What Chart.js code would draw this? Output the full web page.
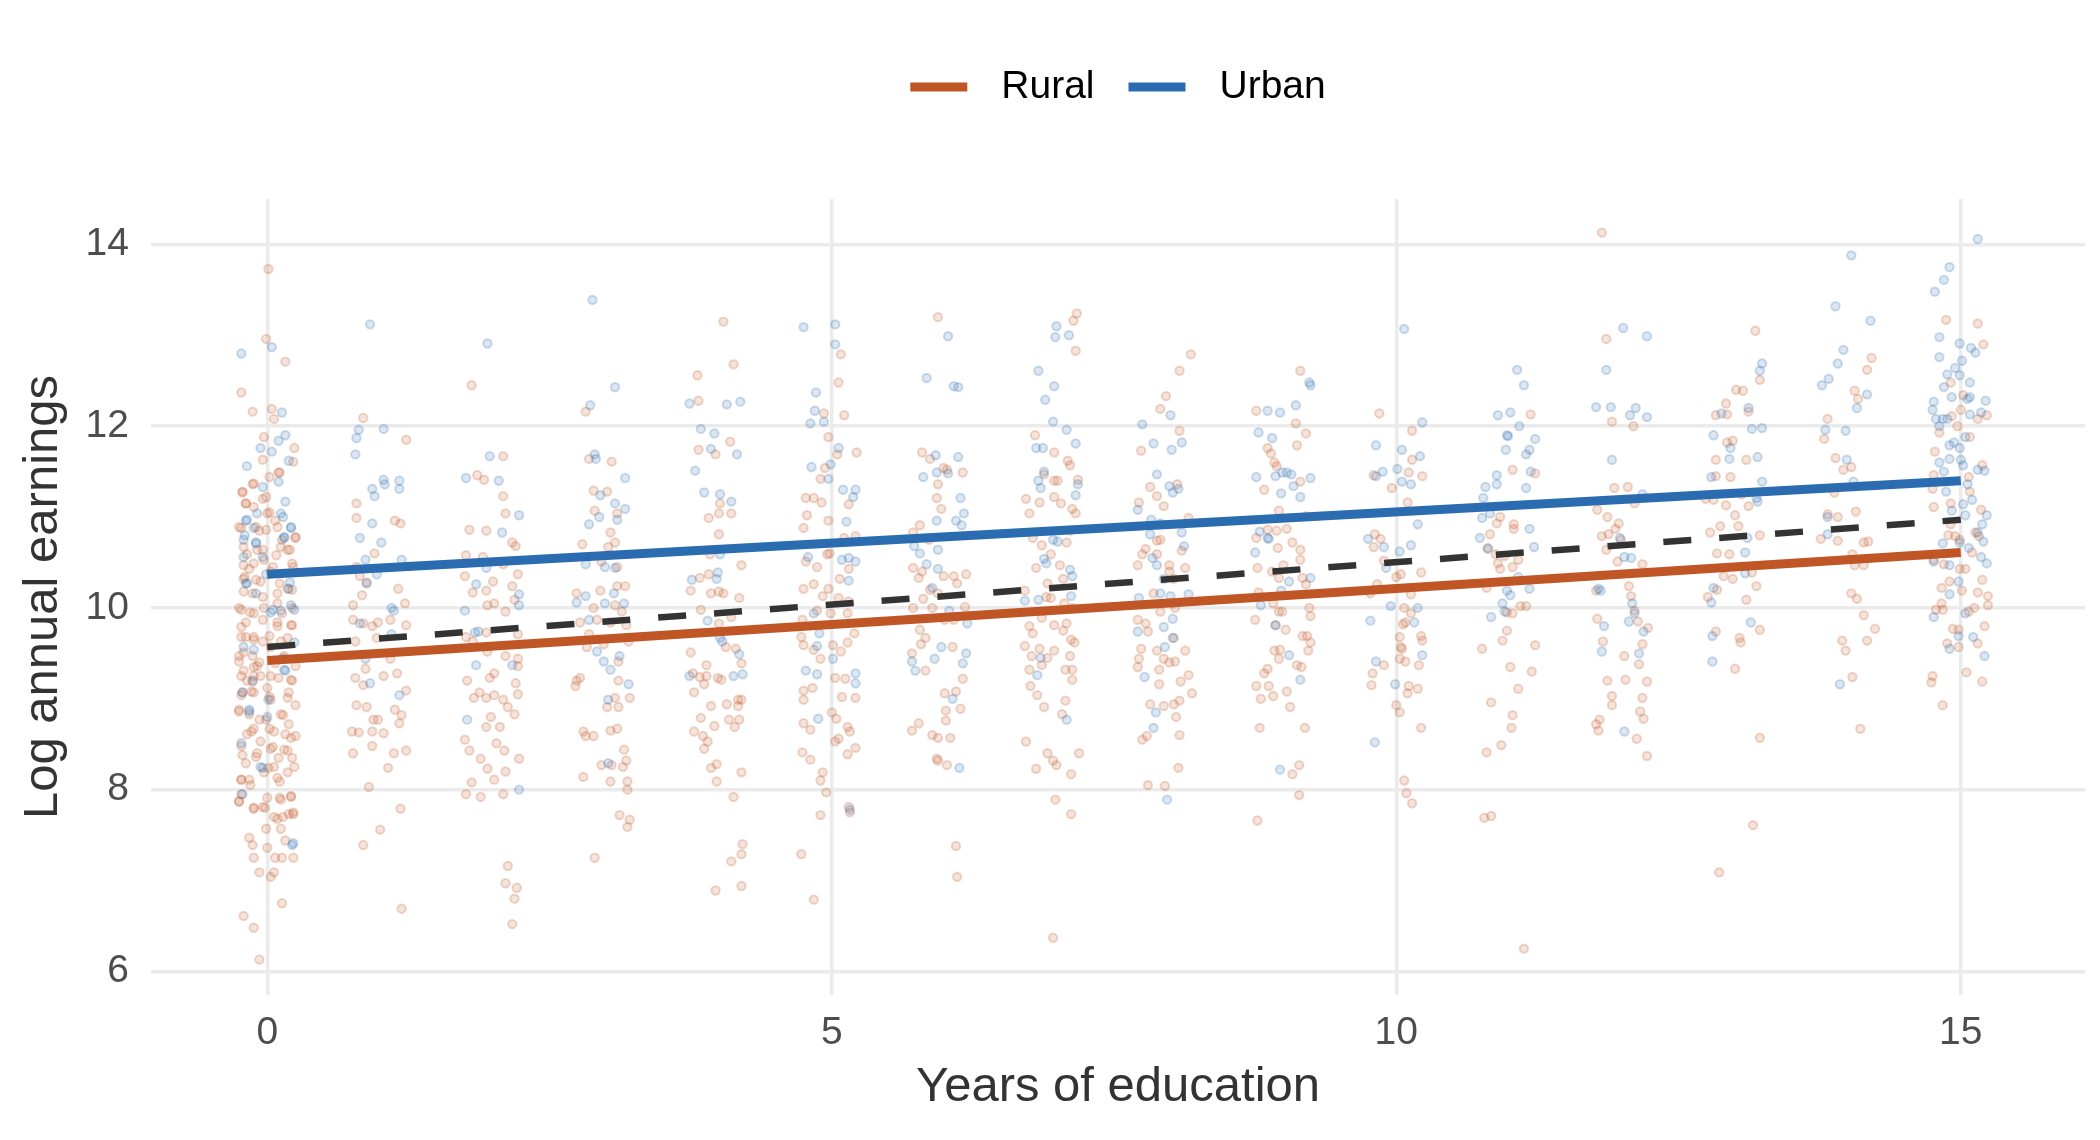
<!DOCTYPE html>
<html lang="en">
<head>
<meta charset="utf-8">
<title>Log annual earnings by years of education</title>
<script src="https://cdn.jsdelivr.net/npm/chart.js@4.4.1/dist/chart.umd.min.js"></script>
<style>
    html, body { margin: 0; padding: 0; background: #ffffff; }
    #chartWrap { width: 2100px; height: 1140px; }
</style>
</head>
<body>
<div id="chartWrap"><canvas id="earningsChart" width="2100" height="1140"></canvas></div>
<script>
// Data: [years of education (jittered), log annual earnings]
const ruralPoints = [
    // 0 years
    [0.01,13.73],[-0.01,12.96],[0.16,12.71],[-0.23,12.37],[-0.13,12.16],[0.04,12.19],[0.06,12.08],[-0.03,11.88],[0.24,11.76],[0.23,11.61],
    [-0.04,11.63],[0.10,11.49],[-0.22,11.28],[-0.13,11.36],[-0.19,11.15],[-0.04,11.2],[0,11.04],[-0.23,10.88],[0.13,10.75],[0.25,10.77],
    [-0.18,10.59],[-0.09,10.64],[0.18,10.64],[-0.21,10.32],[-0.06,10.29],[0.23,10.45],[0.18,10.21],[-0.25,10.0],[-0.15,9.95],[-0.03,10.0],
    [0.09,9.84],[0.22,10.0],[-0.23,9.79],[-0.12,9.68],[0.21,9.81],[-0.25,9.47],[-0.13,9.47],[0.03,9.57],[0.15,9.47],[0.25,9.36],
    [-0.21,9.31],[-0.06,9.25],[0.10,9.23],[0.22,9.2],[-0.23,9.04],[-0.12,9.07],[0.03,8.99],[0.18,9.01],[0.25,8.93],[-0.25,8.88],
    [-0.16,8.83],[-0.01,8.77],[0.12,8.83],[-0.18,8.61],[-0.12,8.67],[0.06,8.64],[0.16,8.61],[0.25,8.59],[-0.23,8.48],[-0.09,8.4],
    [0.03,8.45],[0.18,8.43],[0.22,8.35],[-0.23,8.11],[-0.15,8.05],[-0.03,8.19],[0.09,8.13],[-0.25,7.87],[-0.12,7.79],[-0.04,7.81],
    [0.12,7.89],[0.21,7.92],[-0.01,7.57],[0.09,7.68],[0.12,7.57],[0.23,7.73],[-0.16,7.47],[-0.13,7.39],[0.16,7.44],[0,7.36],
    [-0.12,7.25],[0.07,7.25],[0.13,7.25],[0.23,7.25],[-0.07,7.09],[0.03,7.04],[0.06,7.09],[0.13,6.75],[-0.21,6.61],[-0.12,6.48],
    [-0.07,6.13],[-0.16,10.43],[0.03,10.4],[-0.13,10.16],[0.09,10.05],[-0.19,9.68],[-0.04,9.63],[0.12,9.63],[-0.09,9.36],[0.07,9.39],
    [-0.18,9.2],[0,9.12],[0.19,8.72],[-0.06,8.53],[0.10,8.35],[0.01,8.24],[-0.19,8.29],[-0.07,10.85],[0.07,10.96],[-0.03,10.53],
    [0.18,8.19],[0.19,7.73],
    [0.11,11.49],[0.02,11.44],[-0.12,11.37],[-0.22,11.27],[-0.01,11.22],[-0.19,11.15],[-0.12,11.11],[0.02,11.05],[-0.25,10.89],[-0.1,10.89],
    [-0.01,10.86],[0.09,10.89],[0.25,10.78],[-0.21,10.67],[-0.04,10.64],[0.12,10.67],[0.08,10.58],[0.2,10.64],[-0.21,10.47],[-0.12,10.49],
    [0.05,10.45],[0.22,10.49],[-0.2,10.34],[-0.1,10.31],[0.11,10.27],[-0.21,10.18],[-0.04,10.12],[0.09,10.16],[0.22,10.2],[-0.23,9.98],
    [-0.12,9.94],[0.13,9.94],[-0.19,9.84],[-0.04,9.87],[0.09,9.8],[0.22,9.81],[-0.23,9.68],[-0.12,9.65],[0.02,9.69],[0.18,9.67],
    [-0.21,9.51],[-0.25,9.41],[-0.07,9.4],[-0.12,9.35],
    [-0.23,9.25],[-0.12,9.25],[0.03,9.25],[0.21,9.21],[-0.13,9.19],[-0.22,9.07],[0.02,9.02],[0.19,9.07],[-0.14,9.08],[-0.25,8.86],
    [-0.07,8.77],[0.14,8.82],[-0.14,8.64],[0.02,8.67],[0.21,8.57],[0.05,8.47],[0.15,8.44],[-0.22,8.38],[-0.10,8.36],[0.24,8.25],
    [0.06,8.25],[-0.23,8.11],[-0.16,8.11],[0.11,8.09],[-0.23,7.95],[-0.25,7.87],[0.21,7.93],[0.0,7.91],[0.11,7.91],[-0.12,7.8],
    [-0.02,7.8],[0.06,7.7],[0.14,7.7],[0.23,7.75],
    // 1 year
    [0.85,12.09],[1.23,11.85],[0.79,11.15],[0.79,10.99],[1.13,10.96],[1.18,10.93],[0.95,10.6],[0.79,10.45],[0.82,10.35],[0.84,10.14],
    [0.88,10.28],[1.16,10.21],[0.76,10.03],[1.22,10.05],[0.76,9.87],[0.85,9.83],[1.09,9.87],[1.23,9.81],[0.93,9.8],[0.98,9.84],
    [0.78,9.63],[0.97,9.67],[1.09,9.44],[0.87,9.33],[1.03,9.25],[1.15,9.28],[0.78,9.23],[0.85,9.15],[1.23,9.09],[0.79,8.93],
    [0.88,8.91],[1.13,8.88],[1.19,8.82],[0.94,8.77],[0.98,8.77],[0.75,8.64],[0.81,8.63],[0.93,8.64],[1.03,8.62],[1.17,8.73],
    [0.93,8.48],[0.76,8.4],[1.12,8.4],[1.23,8.43],[1.07,8.24],[0.9,8.03],[1.18,7.79],[1.0,7.56],[0.85,7.39],[1.19,6.69],
    // 2 years
    [1.81,12.45],[1.86,11.46],[1.92,11.41],[2.09,11.67],[2.09,11.23],[2.11,11.04],[1.79,10.86],[1.94,10.85],[2.17,10.72],[2.2,10.68],
    [1.76,10.58],[1.91,10.56],[2.09,10.48],[1.75,10.35],[1.82,10.17],[1.94,10.19],[2.0,10.29],[2.17,10.24],[2.22,10.37],[2.19,10.09],
    [1.95,10.03],[2.01,10.05],[2.11,9.96],[1.76,9.68],[1.82,9.63],[1.94,9.73],[2.22,9.71],[1.95,9.52],[2.11,9.47],[2.22,9.44],
    [2.22,9.36],[2.01,9.28],[1.77,9.2],[1.97,9.23],[2.2,9.17],[1.88,9.07],[1.94,9.01],[2.01,9.04],[1.83,9.01],[2.22,9.05],
    [2.09,8.99],[2.13,8.91],[2.19,8.83],[1.98,8.8],[1.94,8.69],[2.06,8.69],[1.75,8.55],[2.03,8.51],[2.1,8.43],[1.79,8.43],
    [1.89,8.34],[1.95,8.23],[2.01,8.11],[2.11,8.2],[1.76,7.95],[1.81,8.08],[1.89,7.92],[2.09,7.95],[2.23,8.34],[2.13,7.16],
    [2.11,6.97],[2.21,6.92],[2.19,6.8],[2.17,6.52],
    // 3 years
    [2.82,12.16],[2.85,11.64],[3.05,11.61],[2.89,11.29],[3.01,11.28],[2.9,11.07],[3.10,11.04],[3.04,10.83],[2.79,10.7],[3.08,10.72],
    [3.02,10.67],[2.96,10.51],[3.10,10.45],[2.74,10.16],[2.95,10.19],[3.10,10.24],[3.17,10.24],[2.89,10.0],[3.08,10.03],[3.14,9.96],
    [2.77,9.84],[2.92,9.87],[3.04,9.84],[3.18,9.81],[2.85,9.71],[3.20,9.63],[2.83,9.57],[2.98,9.6],[3.11,9.41],[2.74,9.2],
    [2.77,9.23],[2.73,9.14],[3.11,9.2],[3.21,9.01],[3.08,9.01],[3.01,8.91],[3.11,8.91],[2.80,8.64],[2.89,8.59],[2.82,8.59],
    [3.04,8.65],[3.10,8.67],[3.16,8.44],[3.18,8.32],[2.96,8.27],[3.05,8.27],[3.15,8.25],[2.80,8.14],[3.04,8.09],[3.19,8.09],
    [3.19,8.0],[3.12,7.72],[3.21,7.67],[3.19,7.59],[2.90,7.25],
    // 4 years
    [4.04,13.15],[4.13,12.68],[3.81,12.56],[3.82,12.28],[3.82,11.74],[3.97,11.69],[4.10,11.83],[4.01,11.15],[3.91,10.99],[4.0,11.04],
    [4.11,11.04],[4.0,10.81],[3.92,10.59],[3.83,10.33],[3.91,10.37],[3.93,10.16],[4.0,10.18],[4.04,10.16],[3.75,10.19],[4.18,10.11],
    [4.20,10.47],[3.84,9.98],[4.0,9.83],[4.11,9.9],[3.75,9.51],[3.89,9.37],[4.06,9.57],[4.15,9.55],[4.20,9.39],[3.77,9.28],
    [3.83,9.24],[3.89,9.25],[3.99,9.23],[4.02,9.21],[3.87,9.16],[3.78,9.07],[3.93,8.92],[4.07,8.94],[4.17,8.99],[4.20,8.99],
    [4.17,8.92],[3.84,8.79],[4.09,8.77],[4.18,8.77],[3.96,8.7],[4.14,8.69],[3.78,8.64],[3.86,8.59],[3.9,8.53],[3.87,8.45],
    [3.93,8.24],[3.98,8.28],[4.20,8.19],[3.98,8.09],[4.13,7.92],[4.21,7.4],[4.20,7.29],[4.11,7.21],[3.97,6.89],[4.20,6.94],
    // 5 years
    [5.08,12.79],[5.06,12.48],[5.11,12.12],[4.93,12.14],[4.97,11.88],[5.05,11.69],[5.22,11.71],[4.94,11.54],[4.90,11.42],[4.77,11.21],
    [4.84,11.21],[4.91,11.16],[4.78,11.02],[5.15,11.14],[4.75,10.88],[4.97,10.96],[5.21,10.79],[5.11,10.77],[4.77,10.51],[4.87,10.45],
    [4.98,10.6],[4.96,10.59],[5.07,10.32],[5.15,10.43],[4.75,10.21],[4.84,10.26],[4.97,10.21],[4.92,10.13],[5.06,10.11],[5.15,10.07],
    [4.74,9.87],[4.87,9.97],[4.99,9.94],[5.14,9.94],[5.20,9.72],[4.73,9.68],[4.75,9.59],[4.84,9.54],[4.90,9.44],[5.01,9.59],
    [5.08,9.52],[5.14,9.62],[5.03,9.23],[5.12,9.22],[4.83,9.12],[4.75,9.09],[4.75,8.99],[5.09,9.02],[5.21,9.01],[5.00,8.85],
    [5.04,8.78],[4.75,8.73],[4.81,8.66],[5.16,8.64],[5.14,8.69],[5.21,8.46],[4.74,8.41],[4.81,8.33],[5.03,8.53],[5.06,8.56],
    [5.14,8.39],[4.92,8.19],[4.90,8.1],[4.95,7.97],[4.90,7.72],[5.15,7.81],[5.16,7.75],[4.73,7.29],[4.84,6.79],
    // 6 years
    [5.94,13.2],[5.80,11.71],[5.87,11.64],[5.99,11.54],[6.02,11.52],[6.16,11.49],[5.94,11.36],[5.93,11.21],[5.97,11.09],[5.78,10.91],
    [5.72,10.83],[5.86,10.75],[5.72,10.44],[5.77,10.33],[5.80,10.4],[5.99,10.35],[6.08,10.35],[6.19,10.37],[5.87,10.2],[6.11,10.27],
    [5.94,10.16],[5.81,10.1],[5.89,10.0],[5.72,10.0],[5.78,9.76],[5.83,9.67],[5.79,9.6],[6.18,10.01],[6.08,9.87],[6.0,9.87],
    [5.71,9.5],[5.83,9.31],[6.07,9.57],[6.16,9.22],[6.0,9.06],[6.10,9.08],[6.01,8.87],[6.14,8.89],[5.77,8.73],[5.71,8.65],
    [6.01,8.76],[5.89,8.6],[5.94,8.57],[6.05,8.57],[5.93,8.34],[5.94,8.32],[6.02,8.27],[6.10,7.38],[6.11,7.04],
    // 7 years
    [7.17,13.24],[7.14,13.16],[7.16,12.83],[6.80,11.9],[6.97,11.71],[7.09,11.62],[7.11,11.57],[6.88,11.47],[6.97,11.4],[7.0,11.4],
    [7.18,11.41],[6.72,11.2],[6.84,11.16],[6.97,11.22],[7.03,11.15],[7.16,11.04],[6.75,11.04],[7.13,11.09],[6.86,10.69],[7.08,10.72],
    [7.11,10.85],[6.78,10.77],[6.81,10.44],[6.94,10.59],[7.02,10.47],[7.05,10.32],[6.91,10.27],[6.94,10.11],[6.90,10.12],[6.71,10.19],
    [7.06,10.05],[7.13,10.0],[6.86,9.89],[6.97,9.81],[6.75,9.8],[6.78,9.72],[7.08,9.83],[7.05,9.75],[7.12,9.65],[7.15,9.62],
    [6.71,9.58],[6.84,9.55],[6.97,9.53],[6.77,9.47],[7.11,9.47],[6.91,9.45],[6.86,9.37],[6.75,9.32],[7.07,9.32],[7.13,9.32],
    [7.13,9.21],[6.76,9.14],[6.82,9.04],[7.07,8.98],[6.88,8.91],[7.04,8.83],[6.72,8.53],[6.91,8.4],[6.96,8.32],[6.99,8.27],
    [7.19,8.4],[6.81,8.23],[7.12,8.17],[6.98,7.89],[7.12,7.73],[6.96,6.37],
    // 8 years
    [8.18,12.79],[8.08,12.61],[7.96,12.33],[7.91,12.19],[8.08,11.95],[7.74,11.73],[7.82,11.33],[7.88,11.23],[7.94,11.12],[8.06,11.36],
    [7.72,11.16],[8.16,10.99],[7.91,10.75],[7.88,10.74],[7.78,10.65],[7.75,10.59],[7.88,10.59],[7.99,10.47],[7.99,10.4],[8.10,10.63],
    [7.71,10.47],[8.13,10.44],[8.03,10.32],[7.85,10.16],[8.02,10.05],[7.91,9.96],[8.04,10.0],[7.71,9.87],[7.78,9.83],[7.80,9.74],
    [8.03,9.67],[7.74,9.55],[7.72,9.44],[7.71,9.35],[7.88,9.53],[7.94,9.44],[7.99,9.4],[8.04,9.41],[8.13,9.53],[7.90,9.32],
    [8.16,9.26],[8.09,9.19],[8.19,9.06],[7.90,9.16],[7.82,8.94],[7.94,8.92],[8.03,8.94],[8.08,8.98],[8.05,8.8],[8.08,8.6],
    [7.75,8.55],[7.79,8.59],[8.07,8.24],[7.80,8.05],[7.95,8.04],
    // 9 years
    [9.15,12.61],[8.76,12.17],[9.11,12.03],[9.20,11.92],[9.12,11.79],[8.86,11.76],[8.89,11.7],[8.92,11.6],[8.94,11.56],[9.15,11.39],
    [8.83,11.3],[8.96,11.07],[9.20,11.01],[8.86,10.86],[8.94,10.85],[9.03,10.87],[9.08,10.72],[8.76,10.77],[8.95,10.66],[9.15,10.64],
    [9.15,10.53],[8.77,10.44],[9.00,10.47],[8.90,10.4],[8.96,10.33],[9.17,10.33],[8.78,10.17],[9.20,10.26],[8.91,10.05],[9.23,10.0],
    [8.75,9.87],[8.96,9.96],[8.99,9.96],[9.24,9.91],[8.93,9.81],[9.02,9.76],[9.17,9.69],[9.21,9.69],[9.24,9.62],[9.22,9.53],
    [8.92,9.53],[8.97,9.54],[8.96,9.44],[8.86,9.33],[8.83,9.28],[9.12,9.37],[9.16,9.35],[8.76,9.14],[8.87,9.14],[8.91,9.03],
    [9.03,9.08],[8.80,9.0],[9.06,8.91],[8.79,8.68],[9.19,8.68],[9.14,8.27],[9.08,8.17],[9.14,7.94],[8.77,7.66],
    // 10 years
    [9.85,12.14],[10.14,11.95],[10.14,11.63],[10.11,11.49],[10.23,11.45],[9.80,11.46],[9.96,11.32],[10.10,11.16],[9.81,10.81],[9.86,10.76],
    [9.80,10.67],[9.89,10.52],[10.22,10.39],[10.0,10.34],[10.04,10.37],[9.83,10.26],[9.77,10.16],[10.13,10.15],[10.07,10.0],[10.13,9.94],
    [10.06,9.82],[10.08,9.84],[10.22,9.69],[10.23,9.64],[10.03,9.68],[10.04,9.57],[10.05,9.55],[10.03,9.44],[10.08,9.41],[10.20,9.37],
    [9.89,9.37],[9.79,9.28],[9.78,9.15],[10.11,9.14],[10.19,9.11],[10.10,9.06],[10.0,8.93],[10.03,8.85],[10.22,8.68],[10.07,8.1],
    [10.09,7.96],[10.14,7.85],
    // 11 years
    [11.19,12.13],[11.23,11.48],[11.03,11.52],[10.92,11.0],[11.04,10.92],[11.04,10.87],[10.83,10.81],[10.89,10.93],[11.08,10.53],[10.96,10.57],
    [10.88,10.59],[10.90,10.49],[10.92,10.43],[11.03,10.45],[10.81,10.66],[10.80,10.22],[10.98,9.95],[11.03,9.94],[11.10,10.02],[11.15,10.02],
    [10.98,9.75],[10.94,9.64],[10.76,9.55],[11.23,9.59],[11.01,9.35],[11.20,9.3],[11.08,9.11],[10.84,8.96],[11.03,8.82],[11.02,8.68],
    [10.80,8.41],[10.93,8.49],[10.78,7.69],[10.84,7.71],[11.13,6.25],
    // 12 years
    [11.82,14.13],[11.86,12.96],[11.91,12.05],[12.1,12.0],[11.93,11.32],[12.05,11.33],[12.11,11.15],[11.78,11.08],[11.87,11.0],[11.97,10.93],
    [11.94,10.87],[11.82,10.79],[11.88,10.81],[11.99,10.75],[11.86,10.64],[11.96,10.51],[12.18,10.48],[12.06,10.24],[11.77,10.19],[12.08,10.13],
    [12.11,9.97],[11.78,9.88],[12.14,9.85],[12.23,9.78],[11.83,9.63],[12.18,9.6],[12.02,9.47],[12.15,9.38],[11.87,9.2],[12.03,9.21],
    [12.22,9.19],[11.91,9.03],[12.18,9.01],[11.91,8.93],[12.16,8.86],[12.19,8.78],[11.80,8.77],[11.77,8.72],[11.79,8.65],[12.13,8.56],
    [12.22,8.37],
    // 13 years
    [13.18,13.05],[13.22,12.51],[13.01,12.4],[13.07,12.39],[12.92,12.25],[12.83,12.12],[12.93,12.13],[13.12,12.16],[12.93,11.82],[12.98,11.84],
    [12.83,11.63],[13.10,11.63],[12.83,11.45],[12.96,11.44],[12.74,11.2],[12.81,11.19],[12.92,11.13],[13.06,11.25],[13.12,11.12],[13.0,11.02],
    [12.87,10.9],[13.03,10.9],[12.78,10.83],[13.22,10.8],[12.84,10.6],[12.95,10.59],[12.98,10.32],[12.90,10.35],[13.15,10.39],[13.19,10.24],
    [12.76,10.12],[12.84,10.2],[13.10,10.09],[12.83,9.74],[13.22,9.76],[13.04,9.67],[13.05,9.62],[13.0,9.33],[13.22,8.57],[13.16,7.61],
    [12.86,7.09],
    // 14 years
    [14.21,12.75],[14.17,12.62],[14.06,12.39],[14.09,12.3],[13.82,12.08],[13.79,11.86],[13.89,11.65],[13.96,11.52],[14.03,11.55],[13.88,11.27],
    [14.07,11.06],[13.82,11.03],[13.91,11.0],[13.76,10.76],[13.91,10.74],[14.14,10.72],[14.18,10.73],[14.04,10.59],[14.06,10.47],[14.14,10.47],
    [14.03,10.16],[14.08,10.1],[14.14,9.92],[14.24,9.77],[13.95,9.64],[14.17,9.64],[13.98,9.53],[14.04,9.24],[14.11,8.67],
    // 15 years
    [14.87,13.17],[15.15,13.13],[15.20,12.9],[14.91,12.48],[15.02,12.34],[15.0,12.18],[14.92,12.11],[15.23,12.12],[15.15,12.08],[14.81,11.93],
    [14.97,12.0],[15.08,11.88],[14.77,11.72],[15.19,11.57],[14.76,11.46],[15.07,11.44],[14.75,11.31],[15.08,11.28],[14.91,11.15],[14.76,11.11],
    [15.18,11.08],[14.91,10.92],[14.89,10.8],[14.95,10.79],[14.99,10.75],[15.13,10.83],[15.16,10.79],[15.10,10.61],[14.76,10.53],[14.85,10.48],
    [14.99,10.43],[15.04,10.43],[14.90,10.29],[14.83,10.22],[15.01,10.19],[15.19,10.31],[14.83,10.05],[14.78,9.98],[14.84,9.98],[15.15,10.17],
    [15.24,10.13],[15.24,10.03],[15.12,10.0],[15.07,9.96],[15.21,9.8],[14.93,9.77],[14.98,9.76],[14.88,9.61],[14.98,9.57],[15.15,9.61],
    [15.05,9.29],[14.75,9.25],[14.74,9.18],[15.19,9.19],[14.84,8.93]
];

const urbanPoints = [
    // 0 years
    [-0.23,12.8],[0.04,12.87],[0.13,12.15],[0.16,11.9],[0.10,11.84],[-0.06,11.76],[-0.18,11.56],[0.04,11.72],[0.19,11.62],[0.1,11.39],
    [0.16,11.17],[-0.04,11.33],[-0.19,10.96],[-0.09,11.04],[0.12,11.04],[0.21,10.88],[-0.12,10.88],[-0.21,10.75],[0.15,10.77],[-0.10,10.72],
    [-0.01,10.37],[0.19,10.21],[-0.18,10.27],[0.03,9.95],[0.12,9.97],[-0.21,9.57],[-0.13,9.2],[0.16,9.31],[-0.22,9.07],[0.01,8.99],
    [-0.16,8.88],[0,8.8],[-0.23,8.51],[-0.04,8.24],[-0.22,7.95],[0.22,7.39],[0.21,10.03],
    [0.14,11.0],[-0.18,10.97],[0.21,10.89],[-0.2,10.8],[-0.1,10.71],[0.15,10.78],[-0.21,10.56],[-0.04,10.56],[-0.19,10.27],[0.2,10.28],
    [-0.1,10.16],[0.05,9.98],[0.24,9.98],[0.24,9.62],[-0.12,9.54],[0.14,9.45],[0.15,9.32],[-0.16,8.86],[-0.06,8.25],[0.23,7.41],
    // 1 year
    [0.91,13.12],[0.81,11.96],[1.03,11.97],[0.79,11.87],[0.78,11.69],[1.03,11.41],[1.04,11.36],[1.17,11.4],[1.17,11.31],[0.93,11.31],
    [0.95,11.23],[0.93,10.93],[0.82,10.77],[1.01,10.72],[0.87,10.53],[1.19,10.53],[0.97,10.37],[0.88,10.27],[1.10,10.0],[1.12,9.97],
    [0.82,9.83],[1.10,9.71],[0.87,9.44],[0.91,9.17],[1.17,9.04],
    // 2 years
    [1.95,12.91],[1.97,11.67],[1.76,11.43],[2.05,11.4],[2.23,11.02],[2.08,10.83],[1.85,10.26],[1.94,10.44],[2.23,10.15],[2.23,10.03],
    [1.75,9.97],[1.84,9.73],[1.87,9.74],[1.85,9.37],[2.17,9.37],[1.77,8.77],[2.23,8.0],
    // 3 years
    [2.88,13.39],[3.08,12.43],[2.86,12.23],[2.9,11.69],[2.91,11.64],[3.17,11.43],[2.95,11.24],[3.08,11.15],[3.17,11.09],[2.85,10.92],
    [2.94,11.0],[3.10,10.97],[2.82,10.48],[2.99,10.45],[3.08,10.44],[2.82,10.13],[2.74,10.06],[3.07,10.16],[2.99,10.05],[3.16,10.05],
    [2.85,9.87],[2.92,9.52],[2.98,9.41],[3.12,9.47],[3.04,9.32],[3.20,9.16],[3.02,8.99],[3.02,8.29],
    // 4 years
    [3.74,12.25],[4.07,12.24],[4.19,12.27],[3.84,11.97],[3.96,11.92],[3.93,11.75],[4.16,11.69],[3.79,11.51],[3.87,11.27],[4.01,11.25],
    [4.11,11.17],[4.01,10.59],[3.99,10.39],[3.98,10.32],[3.76,10.31],[3.90,9.86],[4.01,9.67],[4.03,9.63],[4.18,9.49],[3.74,9.25],
    [4.13,9.25],[4.21,9.27],
    // 5 years
    [4.75,13.09],[5.03,13.12],[5.03,12.9],[4.86,12.37],[4.85,12.17],[4.81,12.03],[4.93,12.05],[5.06,11.76],[4.99,11.58],[4.82,11.55],
    [4.97,11.42],[5.10,11.3],[5.21,11.3],[5.19,11.22],[5.13,10.95],[5.09,10.53],[5.21,10.51],[5.15,10.55],[4.79,10.56],[5.15,10.3],
    [4.84,9.94],[4.89,9.72],[4.87,9.58],[5.01,9.44],[4.77,9.31],[4.87,9.27],[5.21,9.28],[5.21,9.17],[4.88,8.78],[5.16,7.78],
    // 6 years
    [6.03,12.99],[5.84,12.53],[6.08,12.44],[6.12,12.43],[5.92,11.68],[6.12,11.66],[5.81,11.44],[5.93,11.49],[6.03,11.48],[6.14,11.21],
    [6.17,11.04],[5.93,10.96],[6.10,10.96],[6.15,10.91],[5.73,10.68],[5.78,10.6],[5.84,10.48],[5.94,10.64],[5.94,10.43],[5.89,10.22],
    [6.04,9.97],[6.20,9.83],[5.97,9.57],[5.91,9.44],[5.71,9.41],[5.74,9.31],[6.16,9.39],[6.19,9.5],[6.07,9.0],[6.13,8.24],
    // 7 years
    [6.99,13.1],[6.98,12.98],[7.10,13.0],[6.83,12.61],[6.97,12.44],[6.89,12.29],[6.96,12.05],[7.08,11.96],[7.16,11.81],[6.81,11.76],
    [6.87,11.76],[6.88,11.5],[6.83,11.4],[6.85,11.32],[7.18,11.36],[7.16,11.24],[6.96,10.75],[7.0,10.73],[6.88,10.54],[6.90,10.49],
    [7.11,10.42],[7.13,10.35],[6.71,10.08],[6.83,10.09],[7.12,10.13],[6.85,9.45],[6.82,9.26],[7.08,8.77],
    // 8 years
    [7.75,12.02],[7.85,11.81],[8.00,12.12],[8.01,11.74],[8.10,11.82],[7.88,11.47],[7.99,11.34],[8.02,11.27],[8.07,11.31],[7.71,11.08],
    [7.83,10.97],[7.91,10.93],[8.10,10.83],[7.82,10.81],[8.12,10.68],[7.84,10.55],[7.88,10.47],[7.94,10.32],[7.72,10.11],[7.91,10.16],
    [8.00,10.13],[8.16,10.15],[8.02,9.88],[7.71,9.74],[7.94,9.79],[8.02,9.67],[7.95,9.57],[7.77,9.24],[7.87,8.85],[7.85,8.68],
    [7.97,7.89],
    // 9 years
    [9.23,12.48],[9.24,12.45],[8.86,12.17],[8.97,12.15],[9.11,12.23],[8.78,11.93],[8.90,11.87],[8.76,11.44],[8.93,11.45],[8.99,11.49],
    [9.03,11.49],[9.07,11.47],[9.24,11.43],[9.09,11.34],[8.98,11.26],[9.15,11.22],[8.79,10.84],[8.86,10.77],[8.87,10.76],[8.75,10.61],
    [9.05,10.29],[9.24,10.33],[8.98,10.19],[8.80,10.03],[8.93,9.81],[9.05,9.48],[9.15,9.21],[8.97,8.22],
    // 10 years
    [10.07,13.07],[10.23,12.04],[9.82,11.79],[10.05,11.74],[10.21,11.67],[9.88,11.5],[10.01,11.53],[10.13,11.36],[10.05,11.39],[9.82,11.45],
    [10.19,10.92],[9.75,10.76],[9.89,10.67],[10.13,10.69],[10.03,10.62],[9.91,10.44],[9.95,10.02],[10.19,10.0],[10.16,9.84],[9.77,9.86],
    [10.23,9.48],[9.82,9.41],[9.99,9.16],[9.81,8.52],
    // 11 years
    [11.07,12.62],[11.13,12.45],[10.90,12.12],[11.01,12.15],[11.09,12.0],[10.98,11.9],[10.99,11.89],[10.97,11.74],[11.18,11.74],[11.15,11.69],
    [11.23,11.86],[11.19,11.5],[10.89,11.46],[10.79,11.33],[10.89,11.36],[11.15,11.32],[10.77,11.21],[10.76,10.99],[10.83,11.04],[11.18,10.87],
    [10.74,10.77],[10.81,10.65],[11.22,10.67],[11.08,10.34],[11.18,10.21],[10.98,10.19],[11.01,10.14],[10.94,10.05],[10.96,9.96],[10.84,9.9],
    // 12 years
    [12.01,13.08],[12.22,12.99],[11.86,12.62],[11.77,12.21],[11.90,12.21],[12.07,12.12],[12.12,12.2],[12.22,12.1],[11.91,11.63],[12.18,11.25],
    [11.98,10.77],[12.02,10.56],[12.08,10.55],[11.79,10.21],[11.81,10.19],[12.09,10.05],[12.11,9.94],[12.06,9.85],[11.84,9.8],[12.19,9.74],
    [11.82,9.52],[12.15,9.5],[12.02,8.64],
    // 13 years
    [13.24,12.69],[13.22,12.61],[13.12,12.2],[12.88,12.14],[12.81,11.9],[13.15,11.97],[13.24,11.98],[12.96,11.76],[12.95,11.64],[13.20,11.66],
    [12.79,11.44],[13.24,11.39],[13.20,11.17],[13.19,11.21],[13.11,10.77],[13.09,10.61],[13.09,10.38],[12.81,10.22],[12.79,10.06],[13.14,9.84],
    [12.80,9.69],[12.80,9.41],
    // 14 years
    [14.03,13.88],[13.89,13.32],[14.20,13.16],[13.96,12.84],[13.91,12.69],[13.77,12.45],[13.83,12.52],[14.17,12.35],[14.08,12.2],[13.80,11.96],
    [13.98,11.95],[13.99,11.63],[14.05,11.39],[13.82,11.0],[13.82,10.81],[13.93,9.16],
    // 15 years
    [15.15,14.06],[14.90,13.75],[14.85,13.61],[14.77,13.48],[14.81,12.98],[14.81,12.76],[14.99,12.91],[15.09,12.86],[15.13,12.81],[15.01,12.72],
    [14.95,12.64],[14.88,12.57],[14.99,12.56],[15.08,12.48],[14.85,12.43],[14.92,12.32],[15.06,12.3],[15.08,12.32],[15.22,12.28],[14.76,12.27],
    [14.75,12.18],[14.78,12.08],[14.84,12.08],[14.88,12.08],[15.08,12.13],[15.18,12.15],[14.81,12.0],[15.04,11.88],[14.90,11.79],[14.94,11.82],
    [14.99,11.76],[14.81,11.6],[14.90,11.64],[15.0,11.63],[15.02,11.57],[14.85,11.5],[15.15,11.52],[15.21,11.51],[15.06,11.36],[14.87,11.28],
    [15.10,11.19],[15.02,11.14],[14.92,11.07],[15.04,11.02],[15.23,11.02],[15.19,10.92],[15.15,10.83],[15.20,10.73],[14.84,10.71],[14.99,10.72],
    [15.07,10.66],[14.76,10.51],[14.90,10.47],[15.18,10.56],[15.23,10.49],[14.98,10.29],[14.90,10.15],[15.04,9.94],[14.76,9.9],[14.98,9.69],
    [15.11,9.68],[14.90,9.55],[15.21,9.47]
];

// Fitted lines, evaluated at the ends of the education range
const fitYears = [0, 15];
const ruralFit = [9.42, 10.61];
const urbanFit = [10.37, 11.40];
const pooledFit = [9.57, 10.97];

const xTicks = [0, 5, 10, 15];
const yTicks = [6, 8, 10, 12, 14];
const legendLabels = ['Rural', 'Urban'];

const RURAL = '#C05626';
const URBAN = '#2B6CB0';
const FONT = '"Liberation Sans", Arial, Helvetica, sans-serif';

function toXY(pairs) {
    return pairs.map(p => ({ x: p[0], y: p[1] }));
}

function fitLine(values) {
    return fitYears.map((x, i) => ({ x: x, y: values[i] }));
}

// Legend drawn above the panel, centred on the plot area like ggplot does
const topLegend = {
    id: 'topLegend',
    afterDraw(chart) {
        const ctx = chart.ctx;
        const area = chart.chartArea;
        const colors = [RURAL, URBAN];
        const swatch = 57, gap = 34, spacing = 34, cy = 87;
        ctx.save();
        ctx.font = '39px ' + FONT;
        ctx.textBaseline = 'middle';
        ctx.textAlign = 'left';
        const widths = legendLabels.map(t => ctx.measureText(t).width);
        const total = widths.reduce((s, w) => s + swatch + gap + w, 0) + spacing * (legendLabels.length - 1);
        let x = (area.left + area.right) / 2 - total / 2;
        legendLabels.forEach((label, i) => {
            ctx.fillStyle = colors[i];
            ctx.fillRect(x, cy - 4.5, swatch, 9);
            x += swatch + gap;
            ctx.fillStyle = '#000000';
            ctx.fillText(label, x, cy);
            x += widths[i] + spacing;
        });
        ctx.restore();
    }
};

function buildChart() {
    const ctx = document.getElementById('earningsChart').getContext('2d');
    return new Chart(ctx, {
        type: 'scatter',
        data: {
            datasets: [
                {
                    label: 'Overall fit',
                    type: 'line',
                    data: fitLine(pooledFit),
                    borderColor: '#333333',
                    borderWidth: 6.5,
                    borderDash: [28, 28],
                    borderCapStyle: 'butt',
                    pointRadius: 0,
                    fill: false,
                    order: 0
                },
                {
                    label: 'Rural fit',
                    type: 'line',
                    data: fitLine(ruralFit),
                    borderColor: RURAL,
                    borderWidth: 9,
                    borderCapStyle: 'butt',
                    pointRadius: 0,
                    fill: false,
                    order: 1
                },
                {
                    label: 'Urban fit',
                    type: 'line',
                    data: fitLine(urbanFit),
                    borderColor: URBAN,
                    borderWidth: 9,
                    borderCapStyle: 'butt',
                    pointRadius: 0,
                    fill: false,
                    order: 1
                },
                {
                    label: 'Urban',
                    data: toXY(urbanPoints),
                    backgroundColor: 'rgba(43, 108, 176, 0.16)',
                    borderColor: 'rgba(43, 108, 176, 0.24)',
                    borderWidth: 2,
                    pointRadius: 4.2,
                    order: 2
                },
                {
                    label: 'Rural',
                    data: toXY(ruralPoints),
                    backgroundColor: 'rgba(192, 86, 38, 0.16)',
                    borderColor: 'rgba(192, 86, 38, 0.24)',
                    borderWidth: 2,
                    pointRadius: 4.2,
                    order: 3
                }
            ]
        },
        options: {
            responsive: false,
            devicePixelRatio: 1,
            animation: false,
            events: [],
            layout: {
                padding: { top: 199, right: 15, bottom: 0, left: 0 }
            },
            plugins: {
                legend: { display: false },
                tooltip: { enabled: false },
                title: { display: false }
            },
            scales: {
                x: {
                    type: 'linear',
                    min: -1.03,
                    max: 16.1,
                    afterBuildTicks: (scale) => {
                        scale.ticks = xTicks.map(v => ({ value: v }));
                    },
                    afterFit: (scale) => {
                        scale.height = 145;
                    },
                    border: { display: false },
                    grid: {
                        color: '#EBEBEB',
                        lineWidth: 3.5,
                        drawTicks: false
                    },
                    ticks: {
                        color: '#4D4D4D',
                        padding: 15,
                        maxRotation: 0,
                        font: { family: FONT, size: 39 }
                    },
                    title: {
                        display: true,
                        text: 'Years of education',
                        color: '#333333',
                        padding: { top: 0, bottom: 23 },
                        font: { family: FONT, size: 49, lineHeight: 1.2 }
                    }
                },
                y: {
                    type: 'linear',
                    min: 5.74,
                    max: 14.5,
                    afterBuildTicks: (scale) => {
                        scale.ticks = yTicks.map(v => ({ value: v }));
                    },
                    afterFit: (scale) => {
                        scale.width = 151;
                    },
                    border: { display: false },
                    grid: {
                        color: '#EBEBEB',
                        lineWidth: 3.5,
                        drawTicks: false
                    },
                    ticks: {
                        color: '#4D4D4D',
                        padding: 22,
                        font: { family: FONT, size: 39 }
                    },
                    title: {
                        display: true,
                        text: 'Log annual earnings',
                        color: '#333333',
                        padding: { top: 14, bottom: 0 },
                        font: { family: FONT, size: 49, lineHeight: 1.2 }
                    }
                }
            }
        },
        plugins: [topLegend]
    });
}

document.addEventListener('DOMContentLoaded', () => {
    window.earningsChart = buildChart();
});
</script>
</body>
</html>
